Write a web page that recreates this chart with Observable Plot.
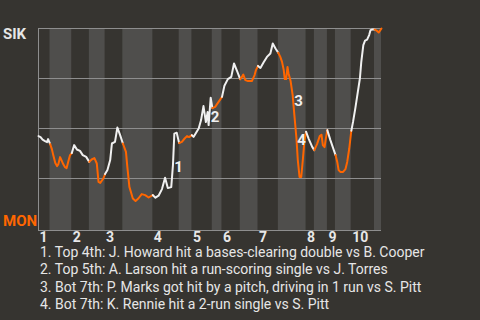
<!DOCTYPE html>
<html><head><meta charset="utf-8">
<script src="https://cdn.jsdelivr.net/npm/d3@7"></script>
<script src="https://cdn.jsdelivr.net/npm/@observablehq/plot@0.6"></script>
<style>
html,body{margin:0;padding:0;background:#363430;width:480px;height:320px;overflow:hidden;font-family:Roboto,sans-serif;}
#chart svg{display:block}
#notes{padding-left:40px;color:#e6e6e6;font-size:14px;line-height:17.4px;white-space:nowrap}
</style></head><body>
<div id="chart"></div><div id="notes"></div>
<script>
// Teams (away = top half, home = bottom half)
const teams = ["SIK", "MON"];
// Inning labels
const innings = ["1","2","3","4","5","6","7","8","9","10"];
// Start of each half inning on the game-progress axis (0-100)
const halfStarts = [0, 3.36, 9.69, 14.83, 19.42, 24.58, 33.34, 41.02, 44.73, 50.66, 53.49, 58.83, 64.0, 69.93, 78.01, 80.44, 84.23, 86.57, 91.15, 97.96];
const progressEnd = 100;
// Game progress of each event
const progress = [0,0.6,1.2,1.9,2.5,2.8,3.4,3.9,4.3,4.9,5.4,5.8,6.3,6.7,7.2,7.7,8.2,8.8,9.2,9.7,
  10.4,11.2,12.1,12.9,13.9,14.8,15.5,16.3,17.0,17.5,18.0,18.9,19.4,20.1,20.9,21.4,22.3,23.0,23.8,24.6,
  25.5,25.9,26.5,27.5,28.3,29.1,30.1,31.1,32.1,33.3,34.1,35.0,36.0,36.9,37.7,38.7,39.2,39.6,40.3,41.0,
  41.8,42.6,43.3,43.9,44.7,45.2,45.9,46.7,47.4,48.1,48.8,49.3,49.6,50.2,50.7,51.5,52.5,53.5,54.2,55.2,
  56.2,57.0,57.9,58.8,59.3,59.7,60.3,61.1,62.2,63.0,63.4,64.0,64.7,65.6,66.6,67.6,68.3,69.1,69.9,70.5,
  71.0,71.5,71.8,72.2,72.6,72.9,73.5,74.1,74.6,75.2,75.6,76.1,76.6,77.1,77.5,78.0,78.8,79.8,80.4,81.2,
  82.0,82.5,82.9,83.4,83.7,84.2,85.1,85.8,86.6,87.1,87.5,88.0,88.8,89.5,90.0,90.6,91.2,91.7,92.4,93.1,
  93.7,94.1,94.7,95.2,95.8,96.4,96.8,97.3,98.0,98.7,99.2,100];
// SIK win probability (%) after each event
const sikWinPct = [46.2,45.7,44.4,43.7,43.2,44.7,42.2,39.7,36.7,32.7,31.2,32.2,35.7,34.2,32.2,30.7,30.2,34.2,36.7,37.7,
  41.7,39.5,38.8,36.7,35.8,33.3,34.5,35.2,32.5,23.3,22.8,25.0,27.2,29.2,34.2,42.5,43.3,50.5,46.7,42.5,
  38.3,30.8,20.8,15.0,13.8,15.0,17.2,16.7,15.5,16.7,15.4,16.4,19.7,25.4,20.2,20.7,31.7,47.4,47.9,42.7,
  43.3,45.0,46.2,45.7,46.7,45.8,47.8,50.0,54.2,61.2,53.2,58.2,51.7,65.4,60.2,60.8,63.3,65.8,71.4,74.7,
  75.8,82.5,78.7,74.7,75.8,77.0,74.2,73.7,73.7,76.7,79.2,81.3,80.3,83.0,85.8,87.5,92.5,90.0,87.9,85.8,
  83.3,79.2,74.7,74.7,80.8,77.5,73.7,66.7,56.7,45.2,34.2,25.8,25.8,35.0,43.3,48.4,44.7,40.8,39.2,42.2,
  46.2,46.9,41.7,40.7,44.2,49.2,44.2,40.7,36.7,33.3,29.2,28.3,28.3,29.7,33.3,40.0,48.9,53.3,60.4,68.3,
  75.0,83.2,91.7,93.9,94.4,96.7,99.2,99.5,99.5,98.8,98.0,100];
// Key plays
const noteLabels = ["1","2","3","4"];
const noteProgress = [40.8, 51.5, 75.8, 76.7];
const notePct = [30.5, 55.5, 63.5, 44];
const noteTexts = [
  "Top 4th: J. Howard hit a bases-clearing double vs B. Cooper",
  "Top 5th: A. Larson hit a run-scoring single vs J. Torres",
  "Bot 7th: P. Marks got hit by a pitch, driving in 1 run vs S. Pitt",
  "Bot 7th: K. Rennie hit a 2-run single vs S. Pitt"
];

const WHITE = "#f0f0f0", ORANGE = "#ff6600", GRID = "#8e8e8e";

const halfOf = x => { let h = 0; for (let i = 0; i < halfStarts.length; i++) if (x >= halfStarts[i]) h = i; return h; };
const pts = [];
let group = -1, prevHalf = -1;
for (let i = 1; i < progress.length; i++) {
  const h = halfOf((progress[i-1] + progress[i]) / 2);
  if (h !== prevHalf) { group++; prevHalf = h; pts.push({x: progress[i-1], y: sikWinPct[i-1], g: group, bottom: h % 2 === 1}); }
  pts.push({x: progress[i], y: sikWinPct[i], g: group, bottom: h % 2 === 1});
}
const halves = halfStarts.map((s, i) => ({x1: s, x2: i + 1 < halfStarts.length ? halfStarts[i+1] : progressEnd, bottom: i % 2 === 1}));
const inningRows = innings.map((label, i) => ({label, x: halfStarts[2*i]}));
const notes = noteLabels.map((label, i) => ({label, x: noteProgress[i], y: notePct[i]}));

const plot = Plot.plot({
  width: 480, height: 244,
  marginLeft: 38, marginRight: 99, marginTop: 28, marginBottom: 14,
  x: {domain: [0, progressEnd], axis: null},
  y: {domain: [-1, 100], axis: null},
  style: {background: "transparent", fontFamily: "Roboto, sans-serif", overflow: "visible"},
  marks: [
    Plot.rect(halves.filter(d => d.bottom), {x1: "x1", x2: "x2", fill: "#4f4e4c"}),
    Plot.ruleY([25, 50, 75, 100], {stroke: GRID, strokeWidth: 1}),
    Plot.ruleY([-1], {stroke: GRID, strokeWidth: 1}),
    Plot.ruleX([0], {stroke: GRID, strokeWidth: 1}),
    Plot.line(pts, {x: "x", y: "y", z: "g", stroke: d => d.bottom ? ORANGE : WHITE, strokeWidth: 2}),
    Plot.text(notes, {x: "x", y: "y", text: "label", fill: WHITE, fontSize: 15, fontWeight: "bold", textAnchor: "middle", lineAnchor: "middle"}),
    Plot.text(inningRows, {x: "x", text: "label", frameAnchor: "bottom", lineAnchor: "top", textAnchor: "start", dx: 1, dy: 2, fill: "#e8e8e8", fontSize: 14, fontWeight: "bold"}),
    Plot.text([teams[0]], {text: d => d, frameAnchor: "top-left", lineAnchor: "top", textAnchor: "start", dx: -35.5, fill: "#e6e6e6", fontSize: 15, fontWeight: "bold"}),
    Plot.text([teams[1]], {text: d => d, frameAnchor: "bottom-left", lineAnchor: "bottom", textAnchor: "start", dx: -35.5, dy: -4.7, fill: ORANGE, fontSize: 15, fontWeight: "bold"})
  ]
});
document.getElementById("chart").appendChild(plot);
document.getElementById("notes").innerHTML = noteTexts.map((t, i) => `<div>${i+1}. ${t}</div>`).join("");
</script>
</body></html>
